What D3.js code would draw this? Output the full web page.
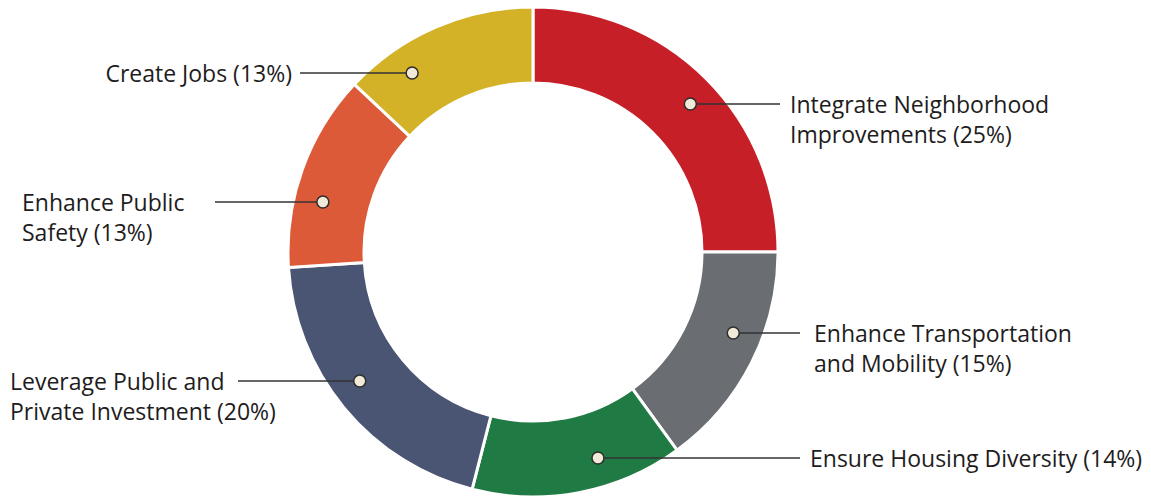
<!DOCTYPE html>
<html>
<head>
<meta charset="utf-8">
<script src="https://cdn.jsdelivr.net/npm/d3@7"></script>
<style>
  body { margin: 0; background: #fff; }
  svg { display: block; }
</style>
</head>
<body>
<script>
// goals and their share (%), clockwise from 12 o'clock
var categories = [
  "Integrate Neighborhood|Improvements",
  "Enhance Transportation|and Mobility",
  "Ensure Housing Diversity",
  "Leverage Public and|Private Investment",
  "Enhance Public|Safety",
  "Create Jobs"
];
var shares = [25, 15, 14, 20, 13, 13];
var colors = ["#c61f27", "#6a6d72", "#1f7a44", "#4a5573", "#dc5a37", "#d4b227"];

var w = 1151, h = 499;
var cx = 533, cy = 252, outerR = 245, innerR = 169, dotR = 216;

// where each label sits: y of the leader line, x where text starts/ends
var labelLayout = [
  {side: "right", y: 104, lineEnd: 780, textX: 790},
  {side: "right", y: 333, lineEnd: 800, textX: 814},
  {side: "right", y: 458, lineEnd: 800, textX: 810},
  {side: "left",  y: 381, lineEnd: 238, textX: 10},
  {side: "left",  y: 202, lineEnd: 215, textX: 22},
  {side: "left",  y: 73,  lineEnd: 300, textX: 292, anchor: "end"}
];

var dataset = categories.map(function(c, i) {
  return {name: c, value: shares[i], color: colors[i], layout: labelLayout[i]};
});

var svg = d3.select("body").append("svg")
    .attr("width", w)
    .attr("height", h);

var pie = d3.pie()
    .sort(null)
    .value(function(d) { return d.value; });

var arc = d3.arc()
    .innerRadius(innerR)
    .outerRadius(outerR);

var g = svg.append("g")
    .attr("transform", "translate(" + cx + "," + cy + ")");

g.selectAll("path")
  .data(pie(dataset))
  .enter()
  .append("path")
  .attr("d", arc)
  .attr("fill", function(d) { return d.data.color; })
  .attr("stroke", "#fff")
  .attr("stroke-width", 3);

// dots sit on a circle inside the ring, at the height of their leader line
function dotX(d) {
  var dy = d.layout.y - cy;
  var dx = Math.sqrt(Math.max(0, dotR * dotR - dy * dy));
  return d.layout.side == "right" ? cx + dx : cx - dx;
}

svg.selectAll("line.leader")
  .data(dataset)
  .enter()
  .append("line")
  .attr("class", "leader")
  .attr("x1", dotX)
  .attr("x2", function(d) { return d.layout.lineEnd; })
  .attr("y1", function(d) { return d.layout.y; })
  .attr("y2", function(d) { return d.layout.y; })
  .attr("stroke", "#333")
  .attr("stroke-width", 1.5);

svg.selectAll("circle.dot")
  .data(dataset)
  .enter()
  .append("circle")
  .attr("class", "dot")
  .attr("cx", dotX)
  .attr("cy", function(d) { return d.layout.y; })
  .attr("r", 6)
  .attr("fill", "#f2ead8")
  .attr("stroke", "#2e2e2e")
  .attr("stroke-width", 1.5);

var labels = svg.selectAll("text.label")
  .data(dataset)
  .enter()
  .append("text")
  .attr("class", "label")
  .attr("font-family", "'Open Sans', sans-serif")
  .attr("font-size", "23px")
  .attr("fill", "#1e1c1d")
  .attr("text-anchor", function(d) { return d.layout.anchor || "start"; });

labels.each(function(d) {
  var lines = d.name.split("|");
  lines[lines.length - 1] += " (" + d.value + "%)";
  var t = d3.select(this);
  lines.forEach(function(l, i) {
    t.append("tspan")
      .attr("x", d.layout.textX)
      .attr("y", d.layout.y + 9 + i * 30)
      .text(l);
  });
});
</script>
</body>
</html>
